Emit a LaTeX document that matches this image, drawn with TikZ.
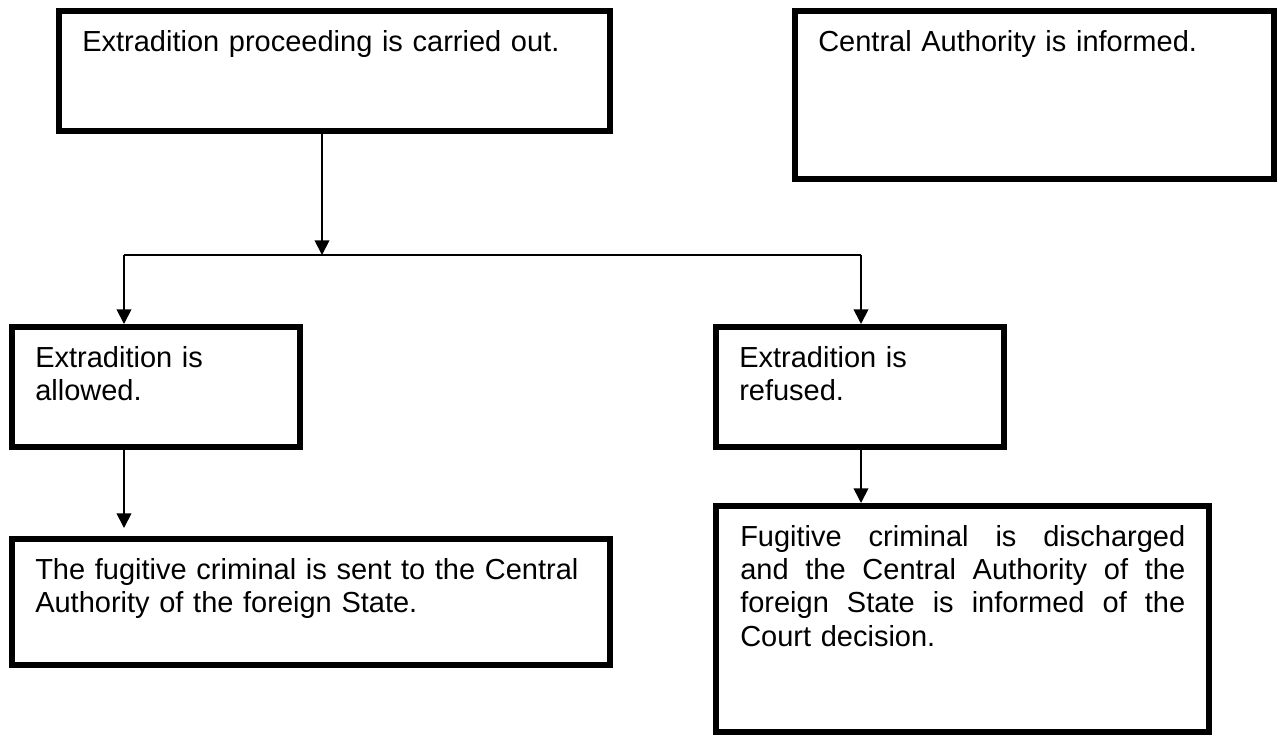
\documentclass[tikz,border=0pt]{standalone}
\usepackage{fontspec}
\setmainfont{Liberation Sans}
\usetikzlibrary{arrows.meta}
\newcommand{\jline}[1]{\leavevmode\hbox to \linewidth{#1}}
\begin{document}
\begin{tikzpicture}[x=0.75pt,y=-0.75pt,
  box/.style={draw, line width=4.5pt, inner sep=0pt},
  txt/.style={inner sep=0pt, anchor=base west, font=\fontsize{21.75pt}{25pt}\selectfont, align=left, text width=#1},
  conn/.style={line width=1.3pt},
  arr/.style={conn, -{Triangle[length=11pt,width=11pt]}}]
\useasboundingbox (0,0) rectangle (1277,736);
% boxes
\node[box, minimum width={551*0.75pt}, minimum height={120*0.75pt}] (A) at (334.5,71) {};
\node[box, minimum width={479*0.75pt}, minimum height={168*0.75pt}] (B) at (1034.5,95) {};
\node[box, minimum width={288*0.75pt}, minimum height={120*0.75pt}] (C) at (156,387) {};
\node[box, minimum width={288*0.75pt}, minimum height={120*0.75pt}] (D) at (860,387) {};
\node[box, minimum width={598*0.75pt}, minimum height={126*0.75pt}] (E) at (311,602) {};
\node[box, minimum width={493*0.75pt}, minimum height={226*0.75pt}] (F) at (962.5,619) {};
% texts
\node[txt=400pt] (tA) at ([shift={(26,43)}]A.north west) {Extradition proceeding is carried out.};
\node[txt=340pt] (tB) at ([shift={(26,43)}]B.north west) {Central Authority is informed.};
\node[txt=200pt] (tC) at ([shift={(26,43)}]C.north west) {Extradition is\\allowed.};
\node[txt=200pt] (tD) at ([shift={(26,43)}]D.north west) {Extradition is\\refused.};
\node[txt=420pt] (tE) at ([shift={(26,43)}]E.north west) {The fugitive criminal is sent to the Central\\Authority of the foreign State.};
\node[txt=333.75pt] (tF) at ([shift={(27,43)}]F.north west) {\jline{Fugitive\hfill criminal\hfill is\hfill discharged}\\\jline{and\hfill the\hfill Central\hfill Authority\hfill of\hfill the}\\\jline{foreign\hfill State\hfill is\hfill informed\hfill of\hfill the}\\Court decision.};
% connectors
\coordinate (j) at (322,255);
\coordinate (jl) at (124,255);
\coordinate (jr) at (861,255);
\draw[arr] (A.south -| j) -- (j);
\draw[conn] (jl) -- (jr);
\draw[arr] (jl) -- (jl |- C.north);
\draw[arr] (jr) -- (jr |- D.north);
\draw[arr] (jl |- C.south) -- ([yshift=6pt]jl |- E.north);
\draw[arr] (jr |- D.south) -- (jr |- F.north);
\end{tikzpicture}
\end{document}
